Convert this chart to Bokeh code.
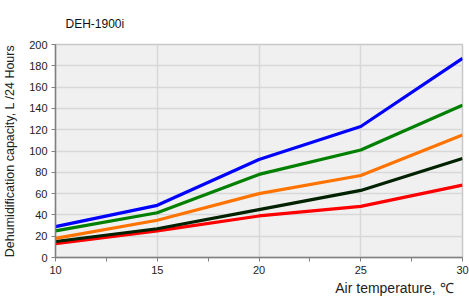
from bokeh.plotting import figure
from bokeh.models import FixedTicker, Range1d, Title
from bokeh.embed import file_html
from bokeh.resources import INLINE

temps = [10, 15, 20, 25, 30]
blue = [29, 49, 92, 123, 187]
green = [25, 42, 78, 101, 143]
orange = [18, 35, 60, 77, 115]
black = [15, 27, 45, 63, 93]
red = [13, 25, 39, 48, 68]
x_ticks = [10, 15, 20, 25, 30]
x_minor = [12.5, 17.5, 22.5, 27.5]
y_ticks = [0, 20, 40, 60, 80, 100, 120, 140, 160, 180, 200]

FONT = "Liberation Sans"

p = figure(width=469, height=298, output_backend="svg", toolbar_location=None,
           x_range=Range1d(10, 30), y_range=Range1d(0, 200),
           min_border_left=53, min_border_right=7, min_border_top=43, min_border_bottom=41)
p.title = Title(text="DEH-1900i", align="left", offset=10, standoff=28,
                text_font=FONT, text_font_size="12px", text_font_style="normal",
                text_color="#111111")
p.background_fill_color = "#f0f0f0"
p.border_fill_color = "white"
p.outline_line_color = "#c8c8c8"
p.outline_line_width = 1.5

for ys, c in [(red, "#ff0000"), (black, "#002200"), (orange, "#ff7400"),
              (green, "#008000"), (blue, "#0000ff")]:
    p.line(temps, ys, line_color=c, line_width=3.2)

p.xaxis.ticker = FixedTicker(ticks=x_ticks, minor_ticks=x_minor)
p.yaxis.ticker = FixedTicker(ticks=y_ticks)
for ax in (p.xaxis, p.yaxis):
    ax.axis_line_color = "#808080"
    ax.axis_line_width = 1.5
    ax.major_tick_line_color = "#808080"
    ax.minor_tick_line_color = "#808080"
    ax.major_tick_in = 0
    ax.major_tick_out = 4
    ax.minor_tick_in = 0
    ax.minor_tick_out = 4
    ax.major_label_text_font = FONT
    ax.major_label_text_font_size = "11px"
    ax.major_label_text_color = "#222222"
    ax.axis_label_text_font = FONT
    ax.axis_label_text_font_style = "normal"
    ax.axis_label_text_color = "#222222"
p.yaxis.minor_tick_line_color = None
p.xaxis.major_label_standoff = 4
p.yaxis.major_label_standoff = 4
p.yaxis.axis_label = "Dehumidification capacity, L /24 Hours"
p.yaxis.axis_label_text_font_size = "12.5px"
p.yaxis.axis_label_standoff = 9

xlabel = Title(text="Air temperature, \u2103", align="right", offset=9, standoff=3,
               text_font=FONT, text_font_size="14px", text_font_style="normal",
               text_color="#222222")
p.add_layout(xlabel, "below")

p.xgrid.grid_line_color = "#d8d8d8"
p.ygrid.grid_line_color = "#d8d8d8"
p.xgrid.grid_line_width = 1.5
p.ygrid.grid_line_width = 1.5

open("out.html", "w").write(file_html(p, INLINE))
